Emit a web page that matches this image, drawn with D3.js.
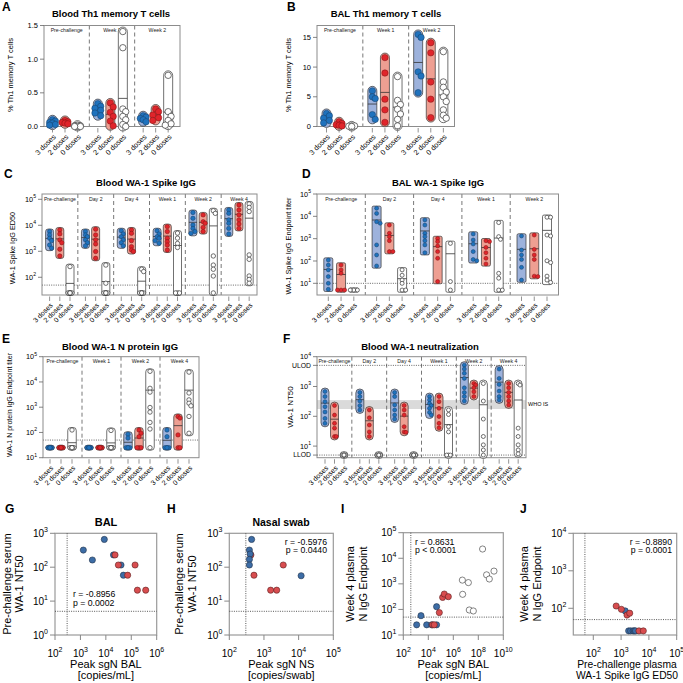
<!DOCTYPE html>
<html><head><meta charset="utf-8">
<script src="https://cdn.jsdelivr.net/npm/d3@7"></script>
<style>body{margin:0;background:#fff}svg{font-family:"Liberation Sans",Arial,sans-serif}</style>
</head><body>
<svg id="c" width="683" height="683"></svg>
<script>
// ---------------- DATA ----------------
const doseLabels = ["3 doses", "2 doses", "0 doses"];

// A: Blood Th1 memory T cells (%)
const A_groups = ["Pre-challenge", "Week 1", "Week 2"];
const A_3doses = [[0.10,0.08,0.06,0.05,0.03,0.02],[0.34,0.30,0.27,0.24,0.20,0.16],[0.16,0.14,0.12,0.10,0.07]];
const A_2doses = [[0.09,0.07,0.06,0.05,0.04],[0.35,0.29,0.21,0.15,0.08,0.01],[0.26,0.22,0.17,0.13,0.09]];
const A_0doses = [[0.02,0.01,0.0,0.0,0.01,0.0],[1.41,1.17,0.26,0.22,0.15,0.10,0.03,0.0],[0.76,0.22,0.15,0.09,0.04,0.02]];
const A_ticks = [0, 0.5, 1.0, 1.5];

// B: BAL Th1 memory T cells (%)
const B_groups = ["Pre-challenge", "Week 1", "Week 2"];
const B_3doses = [[2.2,1.8,1.4,1.0,0.6],[6.0,5.0,4.7,2.0,1.2],[15.5,15.0,9.2,8.5,5.7]];
const B_2doses = [[0.8,0.5,0.3,0.2,0.1],[11.6,9.0,4.6,2.8,0.7],[14.1,12.4,7.5,4.6,1.5]];
const B_0doses = [[0.1,0.05,0.0,0.1],[8.4,4.4,3.7,2.9,2.1,1.2,0.1],[12.6,7.5,6.6,5.8,5.0,4.2,2.8,1.9,1.4]];
const B_ticks = [0, 5, 10, 15];

// C: Blood WA-1 Spike IgG ED50
const C_groups = ["Pre-challenge", "Day 2", "Day 4", "Week 1", "Week 2", "Week 4"];
const C_3doses = [[5750,4270,3160,2570,1740,1320],[5750,4270,3630,2750,2140,1620],[6170,4660,3630,2750,2140,1620],
  [6170,4660,3630,3160,2570,2040],[31000,18600,10200,7600,5750,4900],[38900,28800,16200,12000,7600,4660]];
const C_2doses = [[6600,4660,2740,2140,1200,660],[7080,4270,2750,1910,980,540],[6600,4900,2570,1510,1120,980],
  [8910,5750,3160,2340,1740,1120],[25100,13800,12000,8300,5750],[60300,38900,25100,16200,11200,7600]];
const C_0doses = [[257,25,25,25,25,25,25],[295,59,25,25,25,25,25],[204,166,25,25,25,25,25],
  [5000,3200,2000,1400,25,25,25],[36300,28800,660,295,204,112,25],[66100,49000,33900,724,490,112,83,59]];
const C_ticks = [1e2, 1e3, 1e4, 1e5];
const C_lod = 50;

// D: BAL WA-1 Spike IgG endpoint titer
const D_groups = ["Pre-challenge", "Day 2", "Day 4", "Week 1", "Week 2"];
const D_3doses = [[110,66,40,20,10,5.4],[22900,13500,5750,4900,525,186,60],[6900,4070,1740,1230,810,525,235],
  [1620,870,575,263,117,102],[1320,309,186,117,52,14]];
const D_2doses = [[66,40,28,5,5,5],[4070,1740,1230,810,263,263],[1020,740,470,263,132,12],
  [810,740,407,235,132,74],[1450,331,186,117,21,20]];
const D_0doses = [[5,5,5],[40,23,14,10,5,5],[616,12,5],[5250,1230,933,28,17,5,5],[9100,9100,1450,1320,102,85,21,14,11]];
const D_ticks = [1e1, 1e2, 1e3, 1e4, 1e5];
const D_lod = 10;

// E: Blood WA-1 N protein IgG endpoint titer
const E_groups = ["Pre-challenge", "Week 1", "Week 2", "Week 4"];
const E_3doses = [[25,25,25,25,25,25],[25,25,25,25,25,25],[85,60,25,25,25,25],[125,68,25,25,25,25]];
const E_2doses = [[25,25,25,25,25,25],[25,25,25,25,25,25],[125,93,68,25,25,25],[430,370,80,25,25]];
const E_0doses = [[125,25,25,25,25,25,25],[120,25,25,25,25,25,25],[26300,5600,3950,975,640,250,137,25],[24500,3650,1950,1440,1130,430,93]];
const E_ticks = [1e1, 1e2, 1e3, 1e4, 1e5];
const E_lod = 50;

// F: Blood WA-1 neutralization NT50
const F_groups = ["Pre-challenge", "Day 2", "Day 4", "Week 1", "Week 2", "Week 4"];
const F_3doses = [[680,460,310,210,140,85,58],[630,460,325,228,163],[630,460,240,163,110,81],
  [460,355,270,230,185,135,110],[5200,3850,2770,1870,905,630,460,325],[3850,1870,1170,700,460,355]];
const F_2doses = [[230,110,58,40,21,21],[163,89,51,30,21],[230,163,110,45,30,29],
  [460,310,185,98,58,41],[1260,1120,905,665,460],[1260,905,630,460,325,240]];
const F_0doses = [[5,5,5,5,5,5],[5,5,5,5,5,5],[5,5,5,5,5,5],[163,115,45,30,5,5,5],[1260,325,81,21,11,7.4,5],[1260,1120,40,21,11,7.4,5.5]];
const F_ticks = [1e1, 1e2, 1e3, 1e4];
const F_ulod = 5120, F_llod = 5;
const F_whoBand = [176, 350];

// G: BAL peak sgN vs pre-challenge NT50
const G_blueX = [1300,2950,8700,20000,39500,49000], G_blueY = [320,163,660,230,116,58];
const G_redX = [23000,31000,72000,141000,174000,370000], G_redY = [230,116,58,116,21,21];
// H: Nasal swab
const H_blueX = [440,380,400,380,380,11800], H_blueY = [660,320,245,170,116,56];
const H_redX = [420,515,3600,1560,2330], H_redY = [230,58,116,21,21];
// I: Week 4 N IgG vs peak sgN BAL
const I_blueX = [1170,2600,7400,18500,46000,46000], I_blueY = [25,57,25,25,25,128];
const I_redX = [22000,30000,76000,140000,190000,400000], I_redY = [25,25,75,295,400,315];
const I_whiteX = [5.6e6,5.3e6,1.6e7,1.9e7,4e7,2.2e8,4.6e8,7.6e8,1.8e9], I_whiteY = [390,1400,1120,95,87,23000,2250,1550,3150];
// J: Week 4 N IgG vs pre-challenge spike ED50
const J_blueX = [1410,1870,2200,2700,3000,3300], J_blueY = [85,25,25,25,25,25];
const J_redX = [665,1020,1630,2040,4400,6300], J_redY = [115,94,66,74,25,25];

// ---------------- DRAWING ----------------
const svg = d3.select("#c");
const DOT = [{fill:"#1f72bd", stroke:"#173e66", bar:"#9db2dc"},
             {fill:"#e0252b", stroke:"#7e1414", bar:"#ee9f92"},
             {fill:"#ffffff", stroke:"#333333", bar:"#ffffff"}];

function supText(sel, exp){
  sel.text("10");
  sel.append("tspan").attr("dy","-0.7em").attr("font-size","0.7em").text(exp);
}

function swarm(vals, y, r, cap){
  const pts = vals.map(v => ({v, y: y(v)})).sort((a,b) => a.y - b.y);
  const placed = [];
  const step = r * 0.9, minD = r * 1.5;
  pts.forEach(p => {
    let best = 0, bestScore = -1;
    for (let k = 0; k < 9; k++){
      const dx = k === 0 ? 0 : (k % 2 ? 1 : -1) * Math.ceil(k/2) * step;
      if (Math.abs(dx) > cap) continue;
      let md = Infinity;
      placed.forEach(q => { md = Math.min(md, Math.hypot(dx - q.dx, p.y - q.y)); });
      if (md >= minD){ best = dx; bestScore = Infinity; break; }
      if (md > bestScore){ bestScore = md; best = dx; }
    }
    p.dx = best; placed.push(p);
  });
  return placed;
}

function label(c){
  svg.append("text").attr("x", c.lx).attr("y", c.ly).attr("font-size", 12).attr("font-weight","bold").text(c.letter);
  if (c.title) svg.append("text").attr("x", c.tx).attr("y", c.ty).attr("text-anchor","middle")
    .attr("font-size", c.titleFs || 9.5).attr("font-weight","bold").text(c.title);
}

function dotPanel(c){
  label(c);
  const g = svg.append("g");
  const xg = d3.scaleBand().domain(c.groups).range([c.x0, c.x1]);
  const xi = d3.scalePoint().domain(doseLabels).range([c.off[0], c.off[2]]);
  const y = (c.log ? d3.scaleLog() : d3.scaleLinear()).domain(c.domain).range([c.y1, c.y0]);
  if (c.band) g.append("rect").attr("x", c.x0).attr("width", c.x1 - c.x0)
    .attr("y", y(c.band[1])).attr("height", y(c.band[0]) - y(c.band[1])).attr("fill", "#dadada");
  (c.refs || []).forEach(v => g.append("line").attr("x1", c.x0).attr("x2", c.x1).attr("y1", y(v)).attr("y2", y(v))
    .attr("stroke", "#555").attr("stroke-width", 0.9).attr("stroke-dasharray", "1,1.3"));
  c.groups.slice(1).forEach(gr => g.append("line").attr("x1", xg(gr)).attr("x2", xg(gr))
    .attr("y1", c.y0).attr("y2", c.y1).attr("stroke", "#555").attr("stroke-width", 0.8).attr("stroke-dasharray", "4,3"));
  c.groups.forEach(gr => g.append("text").attr("x", xg(gr) + xg.bandwidth()/2).attr("y", c.y0 + 6.5)
    .attr("text-anchor","middle").attr("font-size", 5.2).attr("fill","#222").text(gr));
  g.append("rect").attr("x", c.x0).attr("y", c.y0).attr("width", c.x1 - c.x0).attr("height", c.y1 - c.y0)
    .attr("fill","none").attr("stroke","#8c8c8c").attr("stroke-width", 1);
  // y ticks
  c.ticks.forEach(t => {
    const yy = y(t);
    g.append("line").attr("x1", c.x0 - 4).attr("x2", c.x0).attr("y1", yy).attr("y2", yy).attr("stroke","#666").attr("stroke-width",0.8);
    const tx = g.append("text").attr("x", c.x0 - 6).attr("y", yy).attr("dy","0.35em").attr("text-anchor","end").attr("font-size", c.tfs);
    if (c.log) supText(tx, Math.round(Math.log10(t))); else tx.text(d3.format(c.fmt)(t));
  });
  (c.extraTicks || []).forEach(e => {
    const yy = y(e.v);
    g.append("line").attr("x1", c.x0 - 4).attr("x2", c.x0).attr("y1", yy).attr("y2", yy).attr("stroke","#666").attr("stroke-width",0.8);
    g.append("text").attr("x", c.x0 - 6).attr("y", yy).attr("dy","0.35em").attr("text-anchor","end").attr("font-size", c.tfs - 0.5).text(e.t);
  });
  if (c.bandLabel) g.append("text").attr("x", c.x1 + 2).attr("y", y(Math.sqrt(c.band[0]*c.band[1]))).attr("dy","0.35em")
    .attr("font-size", 5.5).text(c.bandLabel);
  // y label
  g.append("text").attr("transform", `translate(${c.ylx},${c.yly}) rotate(-90)`).attr("text-anchor","middle")
    .attr("font-size", c.yfs).text(c.ylab);
  // bars, dots, x ticks
  c.groups.forEach((gr, gi) => {
    doseLabels.forEach((dl, di) => {
      const vals = c.series[di][gi];
      const cx = xg(gr) + xi(dl);
      const st = DOT[di];
      const top = y(d3.max(vals)), bot = y(d3.min(vals));
      g.append("rect").attr("x", cx - c.bw/2).attr("width", c.bw).attr("y", top - c.pad).attr("height", bot - top + 2*c.pad)
        .attr("rx", c.rx).attr("fill", st.bar).attr("stroke", "#333").attr("stroke-width", 0.7);
      const ym = y(d3.mean(vals));
      g.append("line").attr("x1", cx - c.bw/2).attr("x2", cx + c.bw/2).attr("y1", ym).attr("y2", ym).attr("stroke","#333").attr("stroke-width",0.8);
      swarm(vals, y, c.r, c.bw/2 - c.r*0.4).forEach(p => {
        g.append("circle").attr("cx", cx + p.dx).attr("cy", p.y).attr("r", c.r)
          .attr("fill", st.fill).attr("stroke", st.stroke).attr("stroke-width", di === 2 ? 0.7 : 0.5);
      });
      g.append("line").attr("x1", cx).attr("x2", cx).attr("y1", c.y1 + 1.5).attr("y2", c.y1 + 6).attr("stroke","#777").attr("stroke-width",0.8);
      g.append("text").attr("transform", `translate(${cx + 2},${c.y1 + 9}) rotate(-45)`).attr("text-anchor","end")
        .attr("dy","0.35em").attr("font-size", c.xfs).text(dl);
    });
  });
}

function scatPanel(c){
  label(c);
  const g = svg.append("g");
  const x = d3.scaleLog().domain(c.xd).range([c.x0, c.x1]);
  const y = d3.scaleLog().domain(c.yd).range([c.y1, c.y0]);
  g.append("rect").attr("x", c.x0).attr("y", c.y0).attr("width", c.x1 - c.x0).attr("height", c.y1 - c.y0)
    .attr("fill","none").attr("stroke","#9a9a9a").attr("stroke-width", 1.2);
  g.append("line").attr("x1", x(c.vref)).attr("x2", x(c.vref)).attr("y1", c.y0).attr("y2", c.y1)
    .attr("stroke","#444").attr("stroke-width",0.9).attr("stroke-dasharray","1,1.3");
  g.append("line").attr("x1", c.x0).attr("x2", c.x1).attr("y1", y(c.href)).attr("y2", y(c.href))
    .attr("stroke","#444").attr("stroke-width",0.9).attr("stroke-dasharray","1,1.3");
  c.xticks.forEach(t => {
    g.append("line").attr("x1", x(t)).attr("x2", x(t)).attr("y1", c.y1).attr("y2", c.y1 + 5).attr("stroke","#888");
    const tx = g.append("text").attr("x", x(t)).attr("y", c.y1 + 22).attr("text-anchor","middle").attr("font-size", 10);
    supText(tx, Math.round(Math.log10(t)));
  });
  c.yticks.forEach(t => {
    g.append("line").attr("x1", c.x0 - 5).attr("x2", c.x0).attr("y1", y(t)).attr("y2", y(t)).attr("stroke","#888");
    const tx = g.append("text").attr("x", c.x0 - 7).attr("y", y(t)).attr("dy","0.35em").attr("text-anchor","end").attr("font-size", 10);
    supText(tx, Math.round(Math.log10(t)));
  });
  c.sets.forEach(s => s.x.forEach((xv, i) => {
    g.append("circle").attr("cx", x(xv)).attr("cy", y(s.y[i])).attr("r", 3.1)
      .attr("fill", s.fill).attr("stroke", s.stroke).attr("stroke-width", 0.6);
  }));
  g.append("text").attr("x", c.ax).attr("y", c.ay).attr("text-anchor", c.aanchor).attr("font-size", 8.7).text(c.r);
  g.append("text").attr("x", c.ax).attr("y", c.ay + 8.5).attr("text-anchor", c.aanchor).attr("font-size", 8.7).text(c.p);
  const xc = (c.x0 + c.x1)/2 + (c.xlShift || 0);
  g.append("text").attr("x", xc).attr("y", 668).attr("text-anchor","middle").attr("font-size", c.xlfs || 11).text(c.xl[0]);
  g.append("text").attr("x", xc).attr("y", 679).attr("text-anchor","middle").attr("font-size", c.xlfs || 11).text(c.xl[1]);
  g.append("text").attr("transform", `translate(${c.ylx[0]},584) rotate(-90)`).attr("text-anchor","middle").attr("font-size", 11).text(c.yl[0]);
  g.append("text").attr("transform", `translate(${c.ylx[1]},584) rotate(-90)`).attr("text-anchor","middle").attr("font-size", 11).text(c.yl[1]);
}

// ---------- panels ----------
dotPanel({letter:"A", lx:2, ly:10.5, title:"Blood Th1 memory T cells", tx:111, ty:16.5,
  x0:44, x1:180, y0:25.5, y1:126.5, groups:A_groups, off:[8.5,21,33.5], log:false, domain:[0,1.5],
  ticks:A_ticks, fmt:".1f", series:[A_3doses,A_2doses,A_0doses], bw:9, pad:4.5, rx:4.5, r:3.2,
  ylab:"% Th1 memory T cells", ylx:13, yly:75, yfs:7.5, tfs:7.5, xfs:7.3});
dotPanel({letter:"B", lx:287, ly:10.5, title:"BAL Th1 memory T cells", tx:386, ty:16.5,
  x0:317, x1:454.5, y0:25.5, y1:126.5, groups:B_groups, off:[9.5,22,34.7], log:false, domain:[0,17],
  ticks:B_ticks, fmt:"d", series:[B_3doses,B_2doses,B_0doses], bw:9, pad:4.5, rx:4.5, r:3.2,
  ylab:"% Th1 memory T cells", ylx:291, yly:75, yfs:7.5, tfs:7.5, xfs:7.3});
dotPanel({letter:"C", lx:4, ly:178, title:"Blood WA-1 Spike IgG", tx:146, ty:186,
  x0:42, x1:257, y0:194, y1:295, groups:C_groups, off:[7.6,18,28], log:true, domain:[20.8,160000],
  ticks:C_ticks, refs:[C_lod], series:[C_3doses,C_2doses,C_0doses], bw:8, pad:2.5, rx:2.5, r:2.2,
  ylab:"WA-1 Spike IgG ED50", ylx:15, yly:248, yfs:7.3, tfs:7.3, xfs:7});
dotPanel({letter:"D", lx:302, ly:178, title:"BAL WA-1 Spike IgG", tx:438, ty:186,
  x0:317, x1:558.5, y0:194, y1:295, groups:D_groups, off:[11.3,24,36.8], log:true, domain:[3,1e5],
  ticks:D_ticks, refs:[D_lod], series:[D_3doses,D_2doses,D_0doses], bw:9, pad:2.2, rx:1.5, r:2,
  ylab:"WA-1 Spike  IgG Endpoint titer", ylx:291, yly:246, yfs:7.3, tfs:7.3, xfs:7});
dotPanel({letter:"E", lx:2, ly:342.5, title:"Blood WA-1 N protein IgG", tx:120, ty:349.5,
  x0:43, x1:199, y0:356.7, y1:457.7, groups:E_groups, off:[7,18.3,29], log:true, domain:[10,1e5],
  ticks:E_ticks, refs:[E_lod], series:[E_3doses,E_2doses,E_0doses], bw:8.5, pad:2.5, rx:3, r:2.2,
  ylab:"WA-1 N protein IgG Endpoint titer", ylx:12, yly:405, yfs:7, tfs:7.3, xfs:7});
dotPanel({letter:"F", lx:283, ly:342.5, title:"Blood WA-1 neutralization", tx:420, ty:349.5,
  x0:317, x1:526, y0:356.7, y1:457.7, groups:F_groups, off:[8,17.5,27], log:true, domain:[4.08,1e4],
  ticks:F_ticks, extraTicks:[{v:F_ulod,t:"ULOD"},{v:F_llod,t:"LLOD"}], refs:[F_ulod, F_llod],
  band:F_whoBand, bandLabel:"WHO IS", series:[F_3doses,F_2doses,F_0doses], bw:8, pad:3.5, rx:4, r:2,
  ylab:"WA-1 NT50", ylx:293, yly:407, yfs:8, tfs:7.3, xfs:7});

const SB = {fill:"#3d6da6", stroke:"#22324a"}, SR = {fill:"#d84d4f", stroke:"#5a2020"}, SW = {fill:"#fff", stroke:"#333"};
scatPanel({letter:"G", lx:5, ly:513, title:"BAL", tx:106, ty:526, titleFs:11,
  x0:55, x1:156.7, y0:533.3, y1:635, xd:[100,1e6], yd:[1,1000], xticks:[1e2,1e3,1e4,1e5,1e6], yticks:[1,10,100,1000],
  vref:300, href:5, sets:[{...SB, x:G_blueX, y:G_blueY},{...SR, x:G_redX, y:G_redY}],
  r:"r = -0.8956", p:"p = 0.0002", ax:73, ay:597, aanchor:"start",
  xl:["Peak sgN BAL","[copies/mL]"], yl:["Pre-challenge serum","WA-1 NT50"], ylx:[10.5,23]});
scatPanel({letter:"H", lx:167, ly:513, title:"Nasal swab", tx:281, ty:526, titleFs:10.5,
  x0:229.3, x1:333.3, y0:533.3, y1:635, xd:[100,1e5], yd:[1,1000], xticks:[1e2,1e3,1e4,1e5], yticks:[1,10,100,1000],
  vref:300, href:5, sets:[{...SR, x:H_redX, y:H_redY},{...SB, x:H_blueX, y:H_blueY}],
  r:"r = -0.5976", p:"p = 0.0440", ax:327, ay:544.5, aanchor:"end",
  xl:["Peak sgN NS","[copies/swab]"], yl:["Pre-challenge serum","WA-1 NT50"], ylx:[182.5,196]});
scatPanel({letter:"I", lx:341, ly:513,
  x0:403.3, x1:503.3, y0:532.7, y1:635, xd:[100,1e10], yd:[10,1e5], xticks:[1e2,1e4,1e6,1e8,1e10], yticks:[10,100,1e3,1e4,1e5],
  vref:400, href:50, sets:[{...SB, x:I_blueX, y:I_blueY},{...SR, x:I_redX, y:I_redY},{...SW, x:I_whiteX, y:I_whiteY}],
  r:"r = 0.8631", p:"p < 0.0001", ax:415, ay:544.5, aanchor:"start",
  xl:["Peak sgN BAL","[copies/mL]"], yl:["Week 4 plasma","N IgG Endpoint"], ylx:[354,367]});
scatPanel({letter:"J", lx:520, ly:513,
  x0:573.3, x1:676.7, y0:533.3, y1:635, xd:[19.1,1e5], yd:[19.4,1e4], xticks:[1e2,1e3,1e4,1e5], yticks:[1e2,1e3,1e4],
  vref:50, href:50, sets:[{...SB, x:J_blueX, y:J_blueY},{...SR, x:J_redX, y:J_redY}],
  r:"r = -0.8890", p:"p = 0.0001", ax:672, ay:544.5, aanchor:"end", xlShift:2, xlfs:10.3,
  xl:["Pre-challenge plasma","WA-1 Spike IgG ED50"], yl:["Week 4 plasma","N IgG Endpoint"], ylx:[528,541]});
</script>
</body></html>
